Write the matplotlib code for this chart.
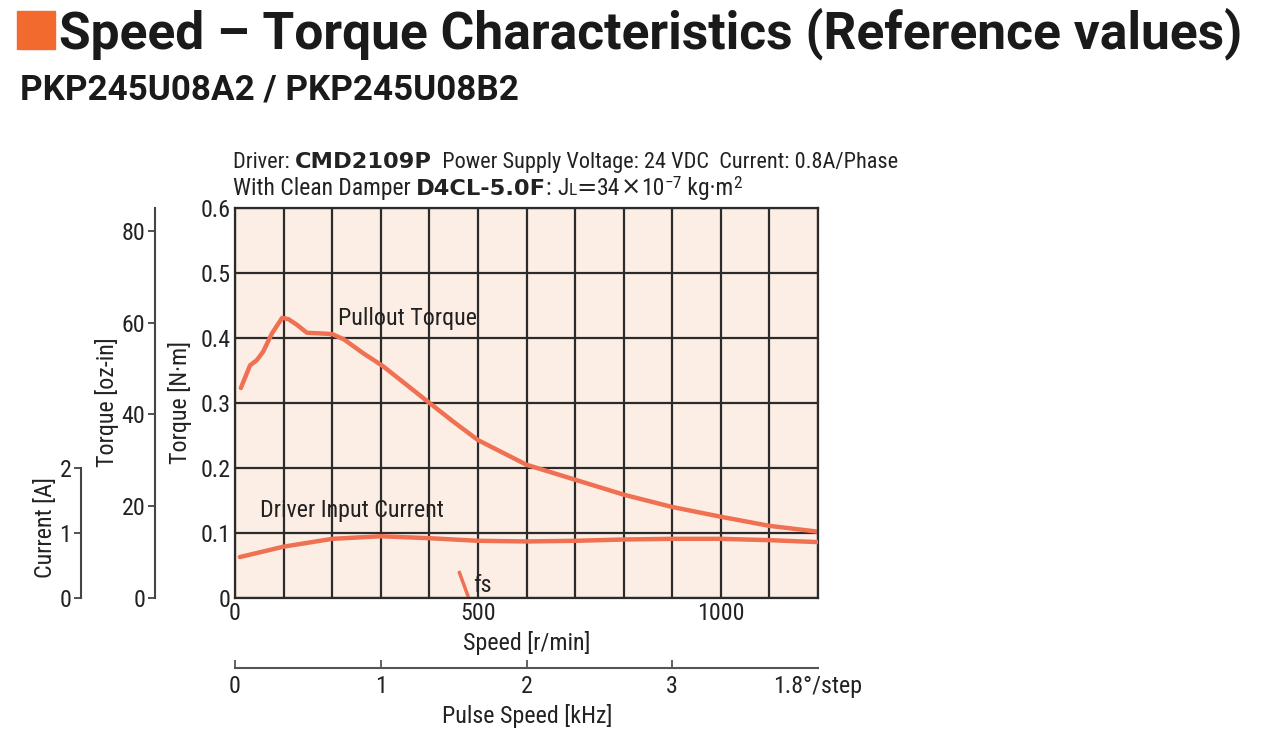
import matplotlib
matplotlib.use("Agg")
import matplotlib.pyplot as plt
from matplotlib.patches import Rectangle

NARROW = ['Roboto Condensed', 'Archivo Narrow', 'Liberation Sans', 'DejaVu Sans']
plt.rcParams['font.family'] = NARROW

# data
pullout_rpm = [12, 31, 45, 58, 76, 97, 110, 128, 148, 176, 200, 224, 265, 304, 348, 397,
               450, 500, 600, 700, 800, 900, 1000, 1100, 1200]
pullout_nm = [0.323, 0.358, 0.366, 0.379, 0.407, 0.431, 0.429, 0.420, 0.408, 0.407, 0.406,
              0.398, 0.376, 0.357, 0.331, 0.302, 0.271, 0.243, 0.205, 0.182, 0.159, 0.140,
              0.125, 0.111, 0.102]
current_rpm = [10, 100, 200, 300, 400, 500, 600, 700, 800, 900, 1000, 1100, 1200]
current_a = [0.63, 0.79, 0.91, 0.95, 0.92, 0.88, 0.87, 0.88, 0.90, 0.91, 0.91, 0.89, 0.86]
fs_rpm = [462, 481]
fs_nm = [0.039, 0.0]

speed_ticks = list(range(0, 1201, 100))
speed_labels = ['0' if s == 0 else str(s) if s % 500 == 0 else '' for s in speed_ticks]
torque_ticks = [0, 0.1, 0.2, 0.3, 0.4, 0.5, 0.6]
torque_labels = ['0', '0.1', '0.2', '0.3', '0.4', '0.5', '0.6']
oz_ticks = [0, 20, 40, 60, 80]
amp_ticks = [0, 1, 2]
pulse_ticks = [0, 1, 2, 3]

W, H = 1280, 739
LINE = '#f07052'
GRID = '#2b2b2b'
INK = '#222222'
FS = 17.3

fig = plt.figure(figsize=(W / 100, H / 100), dpi=100)


def fx(px):
    return px / W


def fy(py):
    return 1 - py / H


# axes box in pixels: left 235, right 818, top 208, bottom 598
left, right, top, bottom = 235, 818, 208, 598
ax = fig.add_axes([fx(left), fy(bottom), fx(right - left), (bottom - top) / H])
ax.set_facecolor('#fdeee5')
ax.set_xlim(0, 1200)
ax.set_ylim(0, 0.6)
ax.set_xticks(speed_ticks)
ax.set_xticklabels(speed_labels)
ax.set_yticks(torque_ticks)
ax.set_yticklabels(torque_labels)
ax.tick_params(length=0, labelsize=FS, pad=3, colors=INK)
ax.grid(True, color=GRID, lw=1.6)
ax.set_axisbelow(True)
for sp in ax.spines.values():
    sp.set_color(GRID)
    sp.set_linewidth(1.6)

ax.plot(pullout_rpm, pullout_nm, color=LINE, lw=3.2, solid_capstyle='round')
ax.plot(fs_rpm, fs_nm, color=LINE, lw=2.5)
ax.text(490, 0.02, 'fs', fontsize=FS, va='center', ha='left', color=INK)
ax.text(213, 0.43, 'Pullout Torque', fontsize=FS, va='center', ha='left', color=INK)
ax.text(52, 0.134, 'Driver Input Current', fontsize=FS, va='center', ha='left', color=INK)

# current is drawn on its own scale: 1 A sits where 0.1 N·m sits
axc = ax.twinx()
axc.set_ylim(0, 6)
axc.axis('off')
axc.plot(current_rpm, current_a, color=LINE, lw=3.2, solid_capstyle='round')

ax.set_xlabel('Speed [r/min]', fontsize=FS, labelpad=4, color=INK)


def side_scale(xpx, height_frac, ymax, ticks):
    a = fig.add_axes([fx(xpx), fy(bottom), 0.0001, height_frac])
    a.set_ylim(0, ymax)
    a.set_yticks(ticks)
    a.set_xticks([])
    a.patch.set_visible(False)
    for name, sp in a.spines.items():
        sp.set_visible(name == 'left')
    a.spines['left'].set_color('#444444')
    a.spines['left'].set_linewidth(1.5)
    a.tick_params(axis='y', length=5, width=1.3, colors='#444444', labelsize=FS,
                  labelcolor=INK, pad=2)
    return a


side_scale(155, (bottom - top) / H, 0.6 * 141.612, oz_ticks)
side_scale(81, (bottom - top) / H / 3, 2, amp_ticks)

fig.text(fx(180), fy(402), 'Torque [N·m]', rotation=90, fontsize=FS, ha='center', va='center',
         color=INK)
fig.text(fx(107), fy(402), 'Torque [oz-in]', rotation=90, fontsize=FS, ha='center', va='center',
         color=INK)
fig.text(fx(46), fy(528), 'Current [A]', rotation=90, fontsize=FS, ha='center', va='center',
         color=INK)

# pulse speed scale under the chart
axp = fig.add_axes([fx(left), fy(668), fx(right - left), 0.0001])
axp.set_xlim(0, 4)
axp.set_ylim(0, 1)
axp.set_xticks(pulse_ticks)
axp.set_yticks([])
axp.patch.set_visible(False)
for name, sp in axp.spines.items():
    sp.set_visible(name == 'bottom')
axp.spines['bottom'].set_color('#555555')
axp.spines['bottom'].set_linewidth(1.5)
axp.tick_params(axis='x', direction='in', length=6, width=1.3, colors='#555555', labelsize=FS,
                labelcolor=INK, pad=5)
fig.text(fx(818), fy(686), '1.8°/step', fontsize=FS, ha='center', va='center', color=INK)
fig.text(fx(527), fy(716), 'Pulse Speed [kHz]', fontsize=FS, ha='center', va='center',
         color=INK)

# header
renderer = fig.canvas.get_renderer()


def pieces(xpx, ypx, parts):
    # lay text runs side by side; 'dy' raises a run by that many pixels
    x = xpx
    for s, kw in parts:
        kw = dict(kw)
        dy = kw.pop('dy', 0)
        t = fig.text(fx(x), fy(ypx - dy), s, va='baseline', ha='left', color=INK, **kw)
        x += t.get_window_extent(renderer).width


def fit_text(xpx, ypx, s, width_px, **kw):
    t = fig.text(fx(xpx), fy(ypx), s, va='baseline', ha='left', fontsize=20, **kw)
    t.set_fontsize(20 * width_px / t.get_window_extent(renderer).width)
    return t


fig.patches.append(Rectangle((fx(17), fy(49)), fx(38), 38 / H, transform=fig.transFigure,
                             color='#f26a2e'))
HEAD = dict(family=['Roboto', 'Liberation Sans', 'DejaVu Sans'], weight='bold', color='#1a1a1a')
fit_text(59, 48, 'Speed – Torque Characteristics (Reference values)', 1181, **HEAD)
fit_text(20, 100, 'PKP245U08A2 / PKP245U08B2', 498, **HEAD)

BOLD = dict(family=['DejaVu Sans'], weight='bold', fontsize=16.2)
REG = dict(fontsize=16)
REG2 = dict(fontsize=17)
SMALL = dict(fontsize=12.5)
SYM = dict(family=['DejaVu Sans'], fontsize=17.5)
pieces(233, 168, [('Driver: ', REG), ('CMD2109P', BOLD),
                  ('  Power Supply Voltage: 24 VDC  Current: 0.8A/Phase', REG)])
pieces(233, 195, [('With Clean Damper ', REG2), ('D4CL-5.0F', BOLD), (': ', REG2),
                  ('J', REG2), ('L', SMALL), ('=', SYM), ('34', REG2), ('×', SYM), ('10', REG2),
                  ('−7', dict(SMALL, dy=7)), (' kg·m', REG2), ('2', dict(SMALL, dy=7))])

fig.savefig('out.png', dpi=100)
